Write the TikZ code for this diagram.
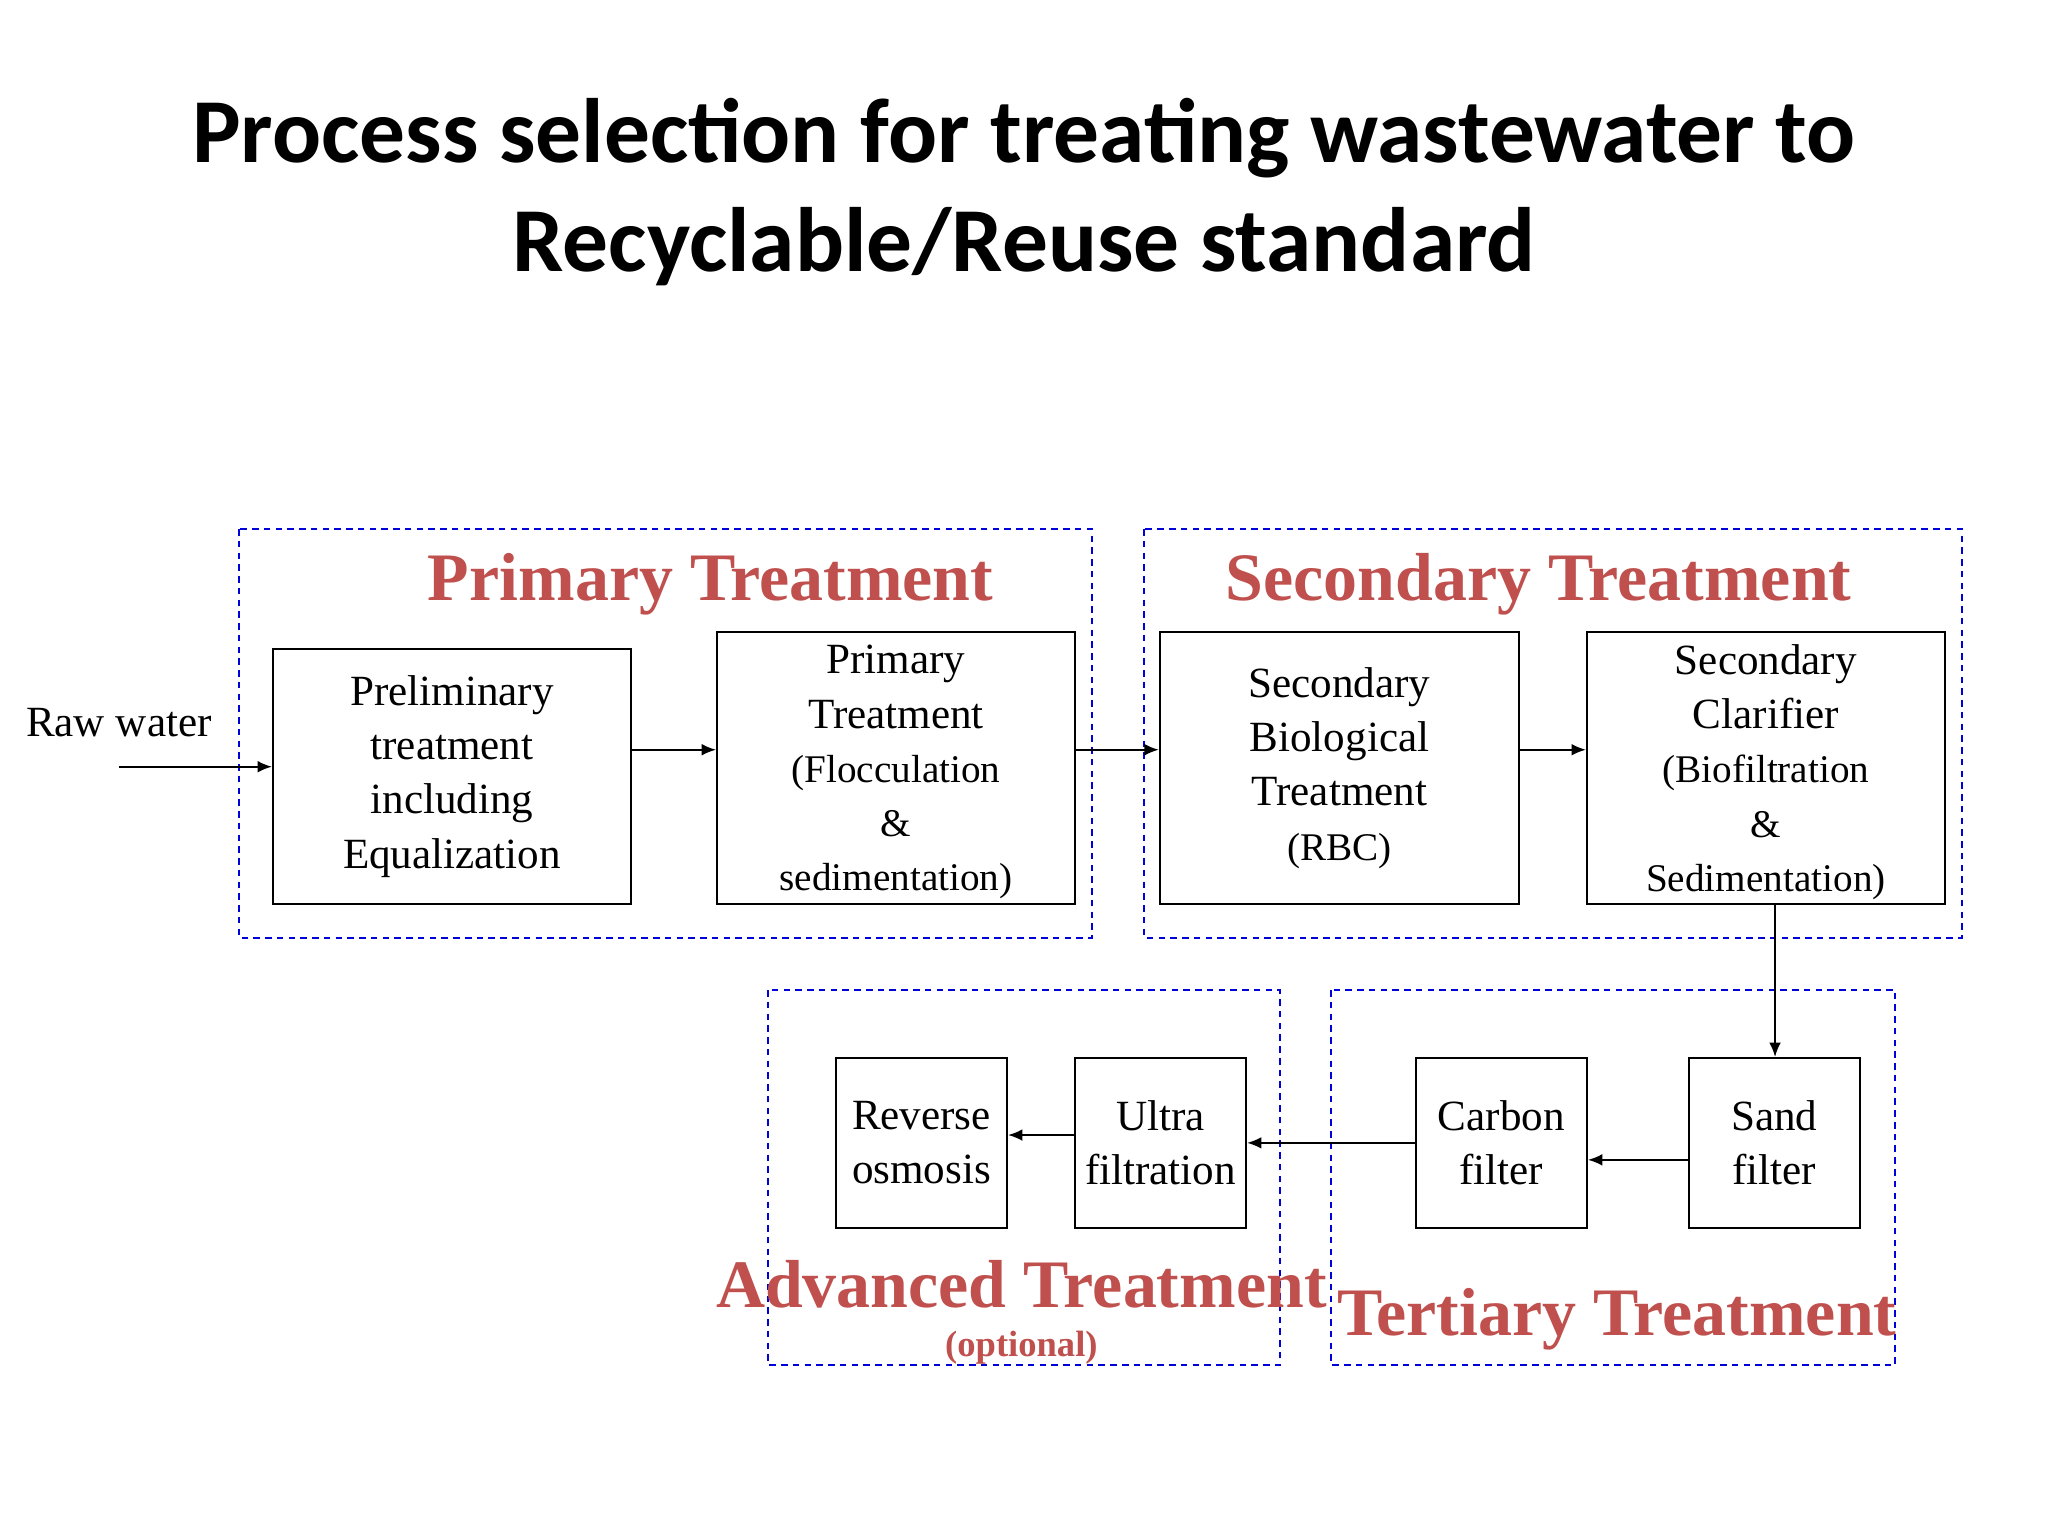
\documentclass[tikz,border=0pt]{standalone}
\usepackage{fontspec}
\setmainfont{Liberation Serif}
\newfontfamily\titlefont{Carlito}
\usetikzlibrary{arrows.meta}
\definecolor{tred}{HTML}{C0504D}
\begin{document}
\begin{tikzpicture}[x=1pt,y=-1pt,
  grp/.style={draw=blue!85!black,dashed,line width=1.6pt,dash pattern=on 5pt off 4pt},
  box/.style={draw,line width=1.6pt,align=center,font=\fontsize{33}{41.5}\selectfont},
  ttl/.style={text=tred,font=\fontsize{52}{56}\selectfont\bfseries},
  arr/.style={line width=1.4pt,-{Latex[length=11pt,width=9pt]}}]
\useasboundingbox (0,0) rectangle (1568,1176);
\node[font=\titlefont\fontsize{70}{83}\selectfont\bfseries,align=center] (title) at (784,147) {Process selection for treating wastewater to\\Recyclable/Reuse standard};
\draw[grp] (183,405) rectangle (836,718);
\draw[grp] (876,405) rectangle (1502,718);
\draw[grp] (588,758) rectangle (980,1045);
\draw[grp] (1019,758) rectangle (1451,1045);
\node[ttl] (tp) at (544,447) {Primary Treatment};
\node[ttl] (ts) at (1178,447) {Secondary Treatment};
\node[ttl] (ta) at (782,983) {Advanced Treatment};
\node[text=tred,font=\fontsize{28}{30}\selectfont\bfseries] (to) at (782,1032) {(optional)};
\node[ttl] (tt) at (1238,1010) {Tertiary Treatment};
\node[box,minimum width=274pt,minimum height=195pt] (pre) at (346,594.5) {Preliminary\\treatment\\including\\Equalization};
\node[box,minimum width=274pt,minimum height=208pt,inner sep=0pt,text depth=0pt] (pri) at (686,588) {Primary\\Treatment\\{\fontsize{30}{35}\selectfont(Flocculation}\\{\fontsize{30}{35}\selectfont\&}\\{\fontsize{30}{35}\selectfont sedimentation)}};
\node[box,minimum width=275pt,minimum height=208pt] (bio) at (1025.5,588) {Secondary\\Biological\\Treatment\\{\fontsize{30}{37}\selectfont(RBC)}};
\node[box,minimum width=274pt,minimum height=208pt,inner sep=0pt,text depth=0pt] (cla) at (1352,588) {Secondary\\Clarifier\\{\fontsize{30}{35}\selectfont(Biofiltration}\\{\fontsize{30}{35}\selectfont\&}\\{\fontsize{30}{35}\selectfont Sedimentation)}};
\node[box,minimum width=131pt,minimum height=130pt,inner sep=1pt] (ro) at (705.5,875) {Reverse\\osmosis};
\node[box,minimum width=131pt,minimum height=130pt,inner sep=1pt] (uf) at (888.5,875) {Ultra\\filtration};
\node[box,minimum width=131pt,minimum height=130pt,inner sep=1pt] (cf) at (1149.5,875) {Carbon\\filter};
\node[box,minimum width=131pt,minimum height=130pt,inner sep=1pt] (sf) at (1358.5,875) {Sand\\filter};
\node[font=\fontsize{33}{38}\selectfont] (raw) at (91,553) {Raw water};
\coordinate (rs) at (91,587);
\draw[arr] (rs) -- (pre.west |- rs);
\draw[arr] (pre.east |- 0,574) -- (pri.west |- 0,574);
\draw[arr] (pri.east |- 0,574) -- (bio.west |- 0,574);
\draw[arr] (bio.east |- 0,574) -- (cla.west |- 0,574);
\draw[arr] (cla.south -| 1359,0) -- (sf.north -| 1359,0);
\draw[arr] (sf.west |- 0,888) -- (cf.east |- 0,888);
\draw[arr] (cf.west) -- (uf.east);
\draw[arr] (uf.west |- 0,869) -- (ro.east |- 0,869);
\end{tikzpicture}
\end{document}
